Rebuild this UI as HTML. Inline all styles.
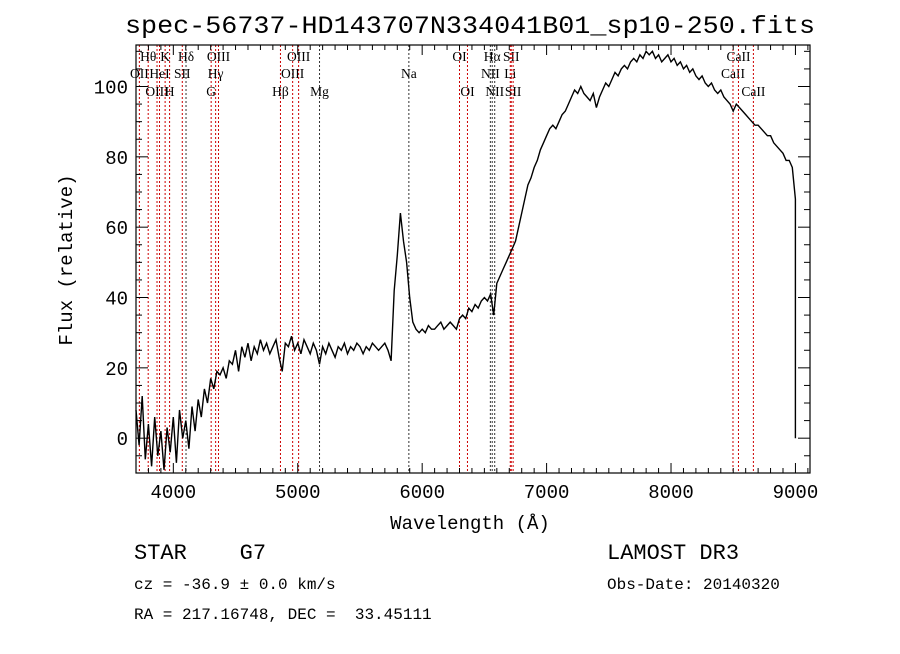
<!DOCTYPE html>
<html><head><meta charset="utf-8"><style>
body{margin:0;background:#fff;}
svg text{font-family:"Liberation Serif",serif;fill:#000;}
.mono{font-family:"Liberation Mono",monospace;}
</style></head><body>
<svg id="chart" width="900" height="649" viewBox="0 0 900 649" xmlns="http://www.w3.org/2000/svg">
<rect width="900" height="649" fill="#fff"/>
<text class="mono" x="470" y="33" font-size="25" text-anchor="middle" textLength="690" lengthAdjust="spacingAndGlyphs">spec-56737-HD143707N334041B01_sp10-250.fits</text>
<g id="lines"></g>
<g id="plot"></g>
<g id="axes"></g>
<text class="mono" x="470" y="529" font-size="19" text-anchor="middle">Wavelength (Å)</text>
<text class="mono" transform="translate(72,260) rotate(-90)" font-size="19" text-anchor="middle">Flux (relative)</text>
<text class="mono" x="134" y="559" font-size="22" xml:space="preserve">STAR    G7</text>
<text class="mono" x="607" y="559" font-size="22">LAMOST DR3</text>
<text class="mono" x="134" y="589" font-size="16">cz = -36.9 ± 0.0 km/s</text>
<text class="mono" x="607" y="589" font-size="16">Obs-Date: 20140320</text>
<text class="mono" x="134" y="619" font-size="16" xml:space="preserve">RA = 217.16748, DEC =  33.45111</text>
</svg>
<script>
const wlStart = 3700;
const wlStep = 25;
const flux = [8,-2,12,-6,4,-8,6,-5,2,-9,3,-4,6,-7,8,0,5,-3,9,2,11,
6,14,10,17,14,19,18,20,17,22,21,25,19,26,23,27,22,26,24,28,25,27,24,26,28,23,19,27,26,29,25,27,24,28,26,24,27,25,21,26,24,27,25,23,26,25,27,24,26,25,27,26,24,26,25,27,26,25,26,27,25,
22,42,52,64,56,50,40,33,31,30,31,30,32,31,31,32,33,31,32,33,32,31,34,35,34,37,36,38,37,39,40,39,41,35,44,46,48,50,52,54,56,60,64,68,72,74,77,79,82,84,86,88,89,88,90,92,93,95,97,99,98,100,98,97,96,98,94,97,99,101,100,102,104,103,105,106,105,107,108,107,109,108,110,109,110,108,109,107,108,109,107,108,106,107,105,106,104,105,103,102,103,101,100,101,99,98,99,97,96,95,93,95,94,93,92,91,90,89,89,88,87,86,86,84,83,82,81,79,79,77,68];
const lineNames = ["OII","Hθ","OIII","HeI","K","H","SII","Hδ","G","Hγ","OIII","Hβ","OIII","OIII","Mg","Na","OI","OI","NII","Hα","NII","Li","SII","SII","CaII","CaII","CaII"];
const lineWaves = [3727,3798,3869,3889,3934,3970,4072,4102,4304,4340,4363,4861,4959,5007,5175,5893,6300,6364,6548,6563,6583,6708,6716,6731,8498,8542,8662];
const lineRows = [1,0,2,1,0,2,1,0,2,1,0,2,1,0,2,1,0,2,1,0,2,1,0,2,1,0,2];
const lineBlack = [0,0,0,0,0,0,0,1,0,0,0,0,0,0,1,1,0,0,1,1,1,0,0,0,0,0,0];
const xTicks = [4000,5000,6000,7000,8000,9000];
const yTicks = [0,20,40,60,80,100];

const L=136,R=810,T=45,B=473, X0=3700,X1=9117,Y0=-9.9,Y1=111.8;
const sx=w=>L+(w-X0)/(X1-X0)*(R-L);
const sy=v=>B-(v-Y0)/(Y1-Y0)*(B-T);
const NS="http://www.w3.org/2000/svg";
function mk(tag,attrs,parent){const e=document.createElementNS(NS,tag);for(const k in attrs)e.setAttribute(k,attrs[k]);parent.appendChild(e);return e;}
const gl=document.getElementById('lines'),gp=document.getElementById('plot'),ga=document.getElementById('axes');
const rowY=[61,78,96];
lineWaves.forEach((w,i)=>{
  const x=sx(w);
  const ln=mk('line',{x1:x,x2:x,y1:T,y2:B,stroke:lineBlack[i]?'#333':'#c00','stroke-width':1,'stroke-dasharray':'2,2'},gl);
  
  
  const t=mk('text',{x:x,y:rowY[lineRows[i]],'font-size':13.5,'text-anchor':'middle'},gl);
  t.textContent=lineNames[i];
  
  
});
let d='';
flux.forEach((v,i)=>{d+=(i?'L':'M')+sx(wlStart+i*wlStep).toFixed(1)+','+sy(v).toFixed(1);});
d+='L'+sx(9000).toFixed(1)+','+sy(0).toFixed(1);
const path=mk('path',{d:d,fill:'none',stroke:'#000','stroke-width':1.4},gp);


const frame=mk('rect',{x:L,y:T,width:R-L,height:B-T,fill:'none',stroke:'#000','stroke-width':1.2},ga);


for(let w=3700;w<=9100;w+=100){
  const x=sx(w),len=(w%1000===0)?10:5;
  mk('line',{x1:x,x2:x,y1:B,y2:B-len,stroke:'#000'},ga);
  mk('line',{x1:x,x2:x,y1:T,y2:T+len,stroke:'#000'},ga);
}
xTicks.forEach(w=>{
  const t=mk('text',{x:sx(w),y:B+25,'font-size':19,'text-anchor':'middle',class:'mono'},ga);
  t.textContent=w;
  
  
});
for(let v=-5;v<=110;v+=5){
  const y=sy(v),len=(v%20===0)?12:6;
  mk('line',{x1:L,x2:L+len,y1:y,y2:y,stroke:'#000'},ga);
  mk('line',{x1:R,x2:R-len,y1:y,y2:y,stroke:'#000'},ga);
}
yTicks.forEach(v=>{
  const t=mk('text',{x:L-8,y:sy(v)+7,'font-size':19,'text-anchor':'end',class:'mono'},ga);
  t.textContent=v;
  
  
});
</script>
</body></html>
